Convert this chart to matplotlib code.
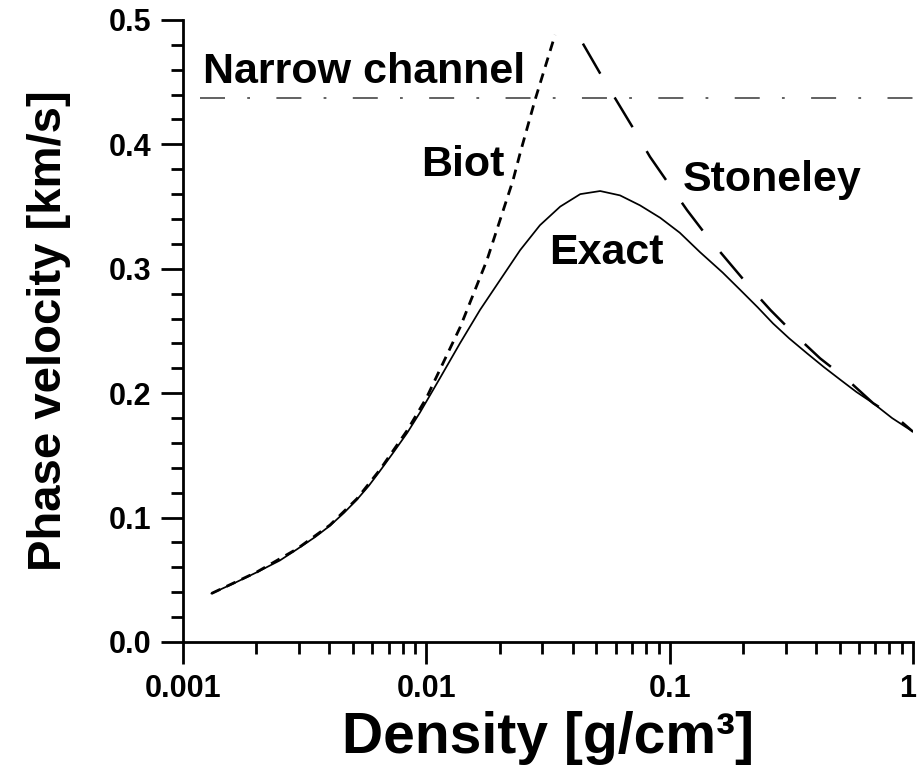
import matplotlib
matplotlib.use("Agg")
import matplotlib.pyplot as plt
from matplotlib.transforms import ScaledTranslation
from matplotlib.ticker import LogLocator, MultipleLocator, FixedLocator, FixedFormatter, NullFormatter

plt.rcParams['font.family'] = ['Liberation Sans', 'DejaVu Sans']
plt.rcParams['font.weight'] = 'bold'
plt.rcParams['lines.scale_dashes'] = False

# Exact solution
exact_x = [0.00131, 0.0016, 0.00201, 0.0025, 0.00294, 0.0035, 0.00402, 0.0046,
           0.00519, 0.0058, 0.00645, 0.0073, 0.00834, 0.00942, 0.01137, 0.01374,
           0.01663, 0.0201, 0.0243, 0.0293, 0.0355, 0.0429, 0.0518, 0.0625,
           0.0755, 0.0914, 0.110, 0.133, 0.165, 0.195, 0.23, 0.266, 0.31,
           0.367, 0.43, 0.501, 0.585, 0.685, 0.82, 1.0]
exact_y = [0.039, 0.0467, 0.0560, 0.0655, 0.0745, 0.0845, 0.0935, 0.104,
           0.1145, 0.1255, 0.1375, 0.152, 0.168, 0.1845, 0.212, 0.240,
           0.267, 0.291, 0.315, 0.335, 0.350, 0.360, 0.3625, 0.359,
           0.351, 0.341, 0.329, 0.3135, 0.297, 0.283, 0.269, 0.256, 0.244,
           0.232, 0.221, 0.211, 0.201, 0.192, 0.180, 0.169]

# Biot approximation
biot_x = [0.00131, 0.00201, 0.00294, 0.00402, 0.00519, 0.00645, 0.00834, 0.0100,
          0.01377, 0.01775, 0.0227, 0.0243, 0.028, 0.0338]
biot_y = [0.039, 0.0562, 0.0748, 0.0940, 0.1152, 0.1385, 0.170, 0.196,
          0.253, 0.307, 0.371, 0.393, 0.436, 0.488]

# Stoneley approximation
ston_x = [0.044, 0.0518, 0.0597, 0.0708, 0.083, 0.0985, 0.118, 0.1425, 0.172,
          0.214, 0.259, 0.327, 0.415, 0.536, 0.685, 0.885, 1.0]
ston_y = [0.481, 0.457, 0.437, 0.413, 0.390, 0.369, 0.347, 0.326, 0.307,
          0.285, 0.267, 0.247, 0.228, 0.211, 0.192, 0.178, 0.169]

# Narrow channel limit
narrow_x = [0.00117, 1.0]
narrow_y = [0.437, 0.437]

xticks = [0.001, 0.01, 0.1, 1]
xticklabels = ['0.001', '0.01', '0.1', '1']
yticks = [0.0, 0.1, 0.2, 0.3, 0.4, 0.5]
yticklabels = ['0.0', '0.1', '0.2', '0.3', '0.4', '0.5']

fig = plt.figure(figsize=(9.18, 7.65), dpi=100)
ax = fig.add_axes([0.1993, 0.1608, 0.7953, 0.8131])

ax.plot(exact_x, exact_y, color='black', lw=1.25, solid_joinstyle='round')
ax.plot(biot_x, biot_y, color='black', lw=2.0, dashes=(7, 5))
ax.plot(ston_x, ston_y, color='black', lw=1.8, dashes=(25, 20))
ax.plot(narrow_x, narrow_y, color='#555555', lw=1.3, dashes=(18, 16, 2, 19))

ax.set_xscale('log')
ax.set_xlim(0.001, 1)
ax.set_ylim(0, 0.5)

ax.xaxis.set_major_locator(FixedLocator(xticks))
ax.xaxis.set_major_formatter(FixedFormatter(xticklabels))
ax.xaxis.set_minor_locator(LogLocator(base=10, subs=range(2, 10), numticks=20))
ax.xaxis.set_minor_formatter(NullFormatter())
ax.yaxis.set_major_locator(FixedLocator(yticks))
ax.yaxis.set_major_formatter(FixedFormatter(yticklabels))
ax.yaxis.set_minor_locator(MultipleLocator(0.02))

for s in ['top', 'right']:
    ax.spines[s].set_visible(False)
for s in ['left', 'bottom']:
    ax.spines[s].set_linewidth(2.0)

ax.tick_params(which='major', direction='out', length=16, width=2.0, labelsize=22, pad=7)
ax.tick_params(which='minor', direction='out', length=8.5, width=2.0)
for lab in ax.get_xticklabels() + ax.get_yticklabels():
    lab.set_fontweight('bold')

# keep the rightmost tick label inside the figure
fig.canvas.draw()
last = ax.get_xticklabels()[-1]
last.set_transform(last.get_transform() + ScaledTranslation(-4 / 72, 0, fig.dpi_scale_trans))

ax.set_xlabel('Density [g/cm³]', fontsize=41, fontweight='bold', labelpad=5)
ax.set_ylabel('Phase velocity [km/s]', fontsize=34, fontweight='bold', labelpad=27)

ax.text(0.00554, 0.458, 'Narrow channel', fontsize=31, fontweight='bold', ha='center', va='center')
ax.text(0.01416, 0.3834, 'Biot', fontsize=31, fontweight='bold', ha='center', va='center')
ax.text(0.2636, 0.371, 'Stoneley', fontsize=31, fontweight='bold', ha='center', va='center')
ax.text(0.0548, 0.3127, 'Exact', fontsize=31, fontweight='bold', ha='center', va='center')

fig.savefig('out.png', dpi=100)
